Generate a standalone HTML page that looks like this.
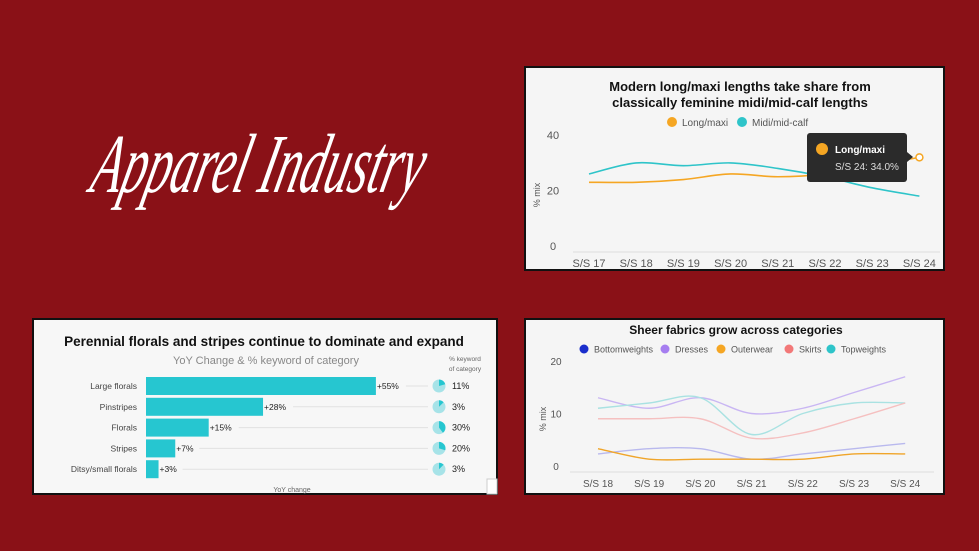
<!DOCTYPE html>
<html><head><meta charset="utf-8"><style>
html,body{margin:0;padding:0;background:#8a1117;width:979px;height:551px;overflow:hidden;font-family:"Liberation Sans",sans-serif}
svg{display:block}
</style></head><body>
<svg width="979" height="551" viewBox="0 0 979 551" xmlns="http://www.w3.org/2000/svg">
<rect x="0" y="0" width="979" height="551" fill="#8a1117"/>
<g transform="translate(0,192) scale(1,1.45) translate(0,-192)">
<text x="255" y="192" text-anchor="middle" font-family="Liberation Serif, serif" font-style="italic" font-size="58" fill="#fff" textLength="330" lengthAdjust="spacingAndGlyphs" transform="skewX(-20) translate(68,0)">Apparel Industry</text>
</g>

<!-- Panel 1 -->
<g>
<rect x="525" y="67" width="419" height="203" fill="#f5f5f5" stroke="#111" stroke-width="2"/>
<text x="740" y="91" text-anchor="middle" font-size="13" font-weight="bold" fill="#111">Modern long/maxi lengths take share from</text>
<text x="740" y="107" text-anchor="middle" font-size="13" font-weight="bold" fill="#111">classically feminine midi/mid-calf lengths</text>
<g id="leg1"></g>
<g id="ax1"></g><g id="s1"></g>
<g>
<rect x="807" y="133" width="100" height="49" rx="3" fill="#2b2b2b"/>
<polygon points="907,152 913,157 907,162" fill="#2b2b2b"/>
<circle cx="822" cy="149" r="6" fill="#f5a623"/>
<text x="835" y="153" font-size="10" font-weight="bold" fill="#fff">Long/maxi</text>
<text x="835" y="170" font-size="10" fill="#ddd">S/S 24: 34.0%</text>
</g>
</g>

<!-- Panel 2 -->
<g>
<rect x="525" y="319" width="419" height="175" fill="#f5f5f5" stroke="#111" stroke-width="2"/>
<text x="736" y="334" text-anchor="middle" font-size="12" font-weight="bold" fill="#111">Sheer fabrics grow across categories</text>
<g id="leg2"></g><g id="ax2"></g><g id="s2"></g>
</g>

<!-- Panel 3 -->
<g>
<rect x="33" y="319" width="464" height="175" fill="#f7f7f7" stroke="#111" stroke-width="2"/>
<text x="264" y="346" text-anchor="middle" font-size="13.5" font-weight="bold" fill="#111">Perennial florals and stripes continue to dominate and expand</text>
<text x="266" y="364" text-anchor="middle" font-size="11" fill="#888">YoY Change &amp; % keyword of category</text>
<text x="465" y="361" text-anchor="middle" font-size="6.5" fill="#666">% keyword</text>
<text x="465" y="371" text-anchor="middle" font-size="6.5" fill="#666">of category</text>
<text x="292" y="492" text-anchor="middle" font-size="7" fill="#666">YoY change</text>
<g id="s3"></g>
<rect x="487" y="479" width="10" height="15" fill="#fff" stroke="#ccc"/>
</g>
</svg>
<script>
const NS="http://www.w3.org/2000/svg";
function mk(p,t,a){const e=document.createElementNS(NS,t);for(const k in a)e.setAttribute(k,a[k]);p.appendChild(e);return e;}
function smooth(pts){let d="M"+pts[0][0]+","+pts[0][1];for(let i=0;i<pts.length-1;i++){const p0=pts[Math.max(0,i-1)],p1=pts[i],p2=pts[i+1],p3=pts[Math.min(pts.length-1,i+2)];const c1=[p1[0]+(p2[0]-p0[0])/6,p1[1]+(p2[1]-p0[1])/6],c2=[p2[0]-(p3[0]-p1[0])/6,p2[1]-(p3[1]-p1[1])/6];d+=" C"+c1+" "+c2+" "+p2;}return d;}

// Chart 1 data
const seasons1=["S/S 17","S/S 18","S/S 19","S/S 20","S/S 21","S/S 22","S/S 23","S/S 24"];
const longMaxi=[23,23,24,26,25,26,29,32];
const midiCalf=[26,30,29,30,28,25,21,18];
const ticks1=[0,20,40];
const series1Names=["Long/maxi","Midi/mid-calf"];
const x1=i=>589+i*47.2, y1=v=>246-v*2.77;
{
const ax=document.getElementById('ax1');
ticks1.forEach(t=>{const e=mk(ax,'text',{x:553,y:y1(t)+4,'text-anchor':'middle','font-size':11,fill:'#555'});e.textContent=t;

});
mk(ax,'line',{x1:573,x2:940,y1:252,y2:252,stroke:'#ddd'});
const yt=mk(ax,'text',{x:0,y:0,transform:'translate(540,195) rotate(-90)','text-anchor':'middle','font-size':9,fill:'#555'});yt.textContent='% mix';


seasons1.forEach((s,i)=>{const e=mk(ax,'text',{x:x1(i),y:267,'text-anchor':'middle','font-size':11,fill:'#555'});e.textContent=s;

});
const lg=document.getElementById('leg1');
const cols=['#f5a623','#2ec4c9'],lx=[672,742];
series1Names.forEach((n,i)=>{const c=mk(lg,'circle',{cx:lx[i],cy:122,r:5,fill:cols[i]});


const t=mk(lg,'text',{x:lx[i]+10,y:126,'font-size':10,fill:'#555'});t.textContent=n;

});
const s=document.getElementById('s1');
[midiCalf,longMaxi].forEach((arr,k)=>{const p=mk(s,'path',{d:smooth(arr.map((v,i)=>[x1(i),y1(v)])),fill:'none',stroke:k?cols[0]:cols[1],'stroke-width':1.6});

});
const m=mk(s,'circle',{cx:x1(7),cy:y1(longMaxi[7]),r:3.5,fill:'#fff',stroke:'#f5a623','stroke-width':1.5});


}

// Chart 2 data
const seasons2=["S/S 18","S/S 19","S/S 20","S/S 21","S/S 22","S/S 23","S/S 24"];
const bottomweights=[2.3,3.3,3.3,1.3,2.3,3.3,4.3];
const dresses=[13,11,13,10,11,14,17];
const outerwear=[3.3,1.3,1.3,1.3,1.3,2.3,2.3];
const skirts=[9,9,9,5.3,6.3,9,12];
const topweights=[11,12,13,6,10,12,12];
const ticks2=[0,10,20];
const series2Names=["Bottomweights","Dresses","Outerwear","Skirts","Topweights"];
const x2=i=>598+i*51.2, y2=v=>466-v*5.25;
{
const ax=document.getElementById('ax2');
ticks2.forEach(t=>{const e=mk(ax,'text',{x:556,y:y2(t)+4,'text-anchor':'middle','font-size':10,fill:'#555'});e.textContent=t;

});
mk(ax,'line',{x1:570,x2:934,y1:472,y2:472,stroke:'#ddd'});
const yt=mk(ax,'text',{x:0,y:0,transform:'translate(546,419) rotate(-90)','text-anchor':'middle','font-size':9,fill:'#555'});yt.textContent='% mix';


seasons2.forEach((s,i)=>{const e=mk(ax,'text',{x:x2(i),y:487,'text-anchor':'middle','font-size':10,fill:'#555'});e.textContent=s;

});
const cols=['#1a2ecc','#a67ef0','#f5a623','#f27878','#2ec4c9'];
const fade=['#b9b9ee','#c9b6f3','#f0a52a','#f5c0c0','#a9e2e2'];
const lx=[584,665,721,789,831];
const lg=document.getElementById('leg2');
series2Names.forEach((n,i)=>{const c=mk(lg,'circle',{cx:lx[i],cy:349,r:4.5,fill:cols[i]});


const t=mk(lg,'text',{x:lx[i]+10,y:352.5,'font-size':9,fill:'#555'});t.textContent=n;

});
const s=document.getElementById('s2');
[[dresses,1],[topweights,4],[skirts,3],[bottomweights,0],[outerwear,2]].forEach(([arr,k])=>{
const p=mk(s,'path',{d:smooth(arr.map((v,i)=>[x2(i),y2(v)])),fill:'none',stroke:fade[k],'stroke-width':1.4});

});
}

// Chart 3 data
const patterns=["Large florals","Pinstripes","Florals","Stripes","Ditsy/small florals"];
const yoyChange=[55,28,15,7,3];
const keywordShare=[11,3,30,20,3];
{
const s=document.getElementById('s3');
const x0=146,sc=4.18;
patterns.forEach((n,i)=>{
const cy=386+i*20.8;
const t=mk(s,'text',{x:137,y:cy+3,'text-anchor':'end','font-size':8.5,fill:'#444'});t.textContent=n;


const w=yoyChange[i]*sc;
const b=mk(s,'rect',{x:x0,y:cy-9,width:w,height:18,fill:'#26c6d0'});


const v=mk(s,'text',{x:x0+w+1,y:cy+3,'font-size':8.5,fill:'#222'});v.textContent='+'+yoyChange[i]+'%';


mk(s,'line',{x1:x0+w+(yoyChange[i]>=10?30:24),x2:428,y1:cy,y2:cy,stroke:'#e2e2e2'});
const r=6.5,px=439;
mk(s,'circle',{cx:px,cy:cy,r:r,fill:'#a7e3e8'});
const a=keywordShare[i]/100*2*Math.PI+0.6;
const pie=mk(s,'path',{d:`M${px},${cy} L${px},${cy-r} A${r},${r} 0 ${a>Math.PI?1:0} 1 ${px+r*Math.sin(a)},${cy-r*Math.cos(a)} Z`,fill:'#26c6d0'});


const p=mk(s,'text',{x:452,y:cy+3,'font-size':9,fill:'#222'});p.textContent=keywordShare[i]+'%';


});
}
</script>
</body></html>
